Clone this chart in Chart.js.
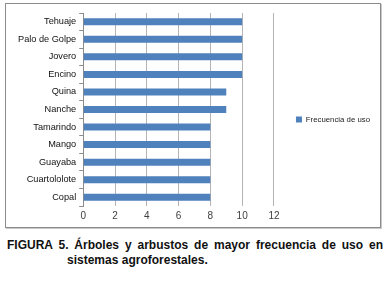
<!DOCTYPE html>
<html>
<head>
<meta charset="utf-8">
<script src="https://cdn.jsdelivr.net/npm/chart.js@4/dist/chart.umd.min.js"></script>
<style>
	html, body { margin: 0; padding: 0; background: #fff; }
	#frame {
		position: absolute; left: 5px; top: 3px; width: 374px; height: 223px;
		border: 1px solid #8c8c8c; box-shadow: 1px 1px 0 #c8c8c8;
	}
	#chart-uso { display: block; }
	#caption {
		position: absolute; left: 7px; top: 238px; width: 376px;
		font-family: "Liberation Sans", Arial, sans-serif; font-weight: bold;
		font-size: 12px; line-height: 15px; color: #111;
	}
	#caption .l1 { text-align: justify; text-align-last: justify; }
	#caption .l2 { padding-left: 60px; }
</style>
</head>
<body>
<div id="frame"><canvas id="chart-uso" width="376" height="223"></canvas></div>
<div id="caption">
	<div class="l1">FIGURA 5. Árboles y arbustos de mayor frecuencia de uso en</div>
	<div class="l2">sistemas agroforestales.</div>
</div>
<script>
const CATEGORIES = ["Tehuaje", "Palo de Golpe", "Jovero", "Encino", "Quina", "Nanche", "Tamarindo", "Mango", "Guayaba", "Cuartololote", "Copal"];
const FRECUENCIA = [10, 10, 10, 10, 9, 9, 8, 8, 8, 8, 8];
const SERIES_LABEL = "Frecuencia de uso";
const X_MAX = 12;
const X_STEP = 2;

const FONT = "'Liberation Sans', Arial, sans-serif";
const BAR_BLUE = "#4f81bd";

//------------------------------------------------------------
// Chart
//------------------------------------------------------------
const CHART_DATA = {
	labels: CATEGORIES,
	datasets: [
		{
			label: SERIES_LABEL,
			data: FRECUENCIA,
			backgroundColor: BAR_BLUE,
			borderWidth: 0,
			categoryPercentage: 1,
			barPercentage: 0.4,
		},
	],
};

const CHART_CONFIG = {
	type: "bar",
	data: CHART_DATA,
	options: {
		indexAxis: "y",
		responsive: false,
		animation: false,
		layout: { padding: { top: 9, bottom: 1, left: 9, right: 2 } },
		plugins: {
			title: { display: false },
			tooltip: { enabled: false },
			legend: {
				position: "right",
				maxWidth: 200,
				labels: {
					boxWidth: 6,
					boxHeight: 6,
					padding: 22,
					color: "#222",
					font: { family: FONT, size: 7.8 },
				},
			},
		},
		scales: {
			x: {
				min: 0,
				max: X_MAX,
				border: { display: false },
				grid: { color: "#b4b4b4", lineWidth: 1, drawTicks: false },
				ticks: { stepSize: X_STEP, padding: 4, color: "#404040", font: { family: FONT, size: 10 } },
			},
			y: {
				border: { display: true, color: "#8c8c8c" },
				grid: { offset: true, drawOnChartArea: false, drawTicks: true, tickLength: 4, color: "#8c8c8c" },
				ticks: { padding: 3, color: "#111", font: { family: FONT, size: 9.2 } },
			},
		},
	},
};

new Chart(document.getElementById("chart-uso"), CHART_CONFIG);
</script>
</body>
</html>
